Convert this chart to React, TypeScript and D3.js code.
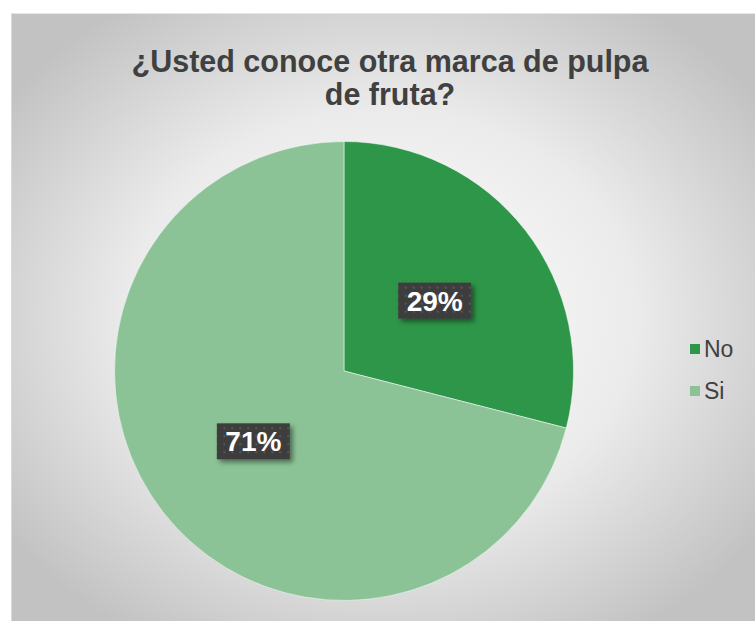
import { useEffect, useRef } from 'react';
import * as d3 from 'd3';

const categories = ['No', 'Si'];
const values = [29, 71];
const labels = ['29%', '71%'];
const colors = ['#2E9648', '#8CC396'];
const titleLines = ['¿Usted conoce otra marca de pulpa', 'de fruta?'];

export default function App() {
  const svgRef = useRef<SVGSVGElement>(null);

  useEffect(() => {
    if (!svgRef.current) return;
    const width = 755;
    const height = 621;
    const svg = d3.select(svgRef.current);
    svg.selectAll('*').remove();

    const defs = svg.append('defs');

    // background gradient
    const grad = defs.append('radialGradient')
      .attr('id', 'bg')
      .attr('cx', '50%').attr('cy', '50%').attr('r', '62%');
    grad.append('stop').attr('offset', '0%').attr('stop-color', '#ffffff');
    grad.append('stop').attr('offset', '55%').attr('stop-color', '#ebebeb');
    grad.append('stop').attr('offset', '100%').attr('stop-color', '#c2c2c2');

    // dotted pattern for data labels
    const pat = defs.append('pattern')
      .attr('id', 'dots')
      .attr('width', 8).attr('height', 8)
      .attr('patternUnits', 'userSpaceOnUse');
    pat.append('rect').attr('width', 8).attr('height', 8).attr('fill', '#3c3c3c');
    pat.append('rect').attr('x', 2).attr('y', 2).attr('width', 2).attr('height', 2).attr('fill', '#585858');

    const shadow = defs.append('filter')
      .attr('id', 'shadow')
      .attr('x', '-30%').attr('y', '-30%').attr('width', '170%').attr('height', '180%');
    shadow.append('feDropShadow')
      .attr('dx', 3).attr('dy', 3).attr('stdDeviation', 2.5)
      .attr('flood-color', '#000').attr('flood-opacity', 0.45);

    // chart area
    svg.append('rect')
      .attr('x', 11).attr('y', 13)
      .attr('width', width - 11).attr('height', height - 13)
      .attr('fill', 'url(#bg)');
    svg.append('line')
      .attr('x1', 11).attr('x2', width).attr('y1', 13.5).attr('y2', 13.5)
      .attr('stroke', '#e6e6e6').attr('stroke-width', 1);
    svg.append('line')
      .attr('x1', 11.5).attr('x2', 11.5).attr('y1', 13).attr('y2', height)
      .attr('stroke', '#d9d9d9').attr('stroke-width', 1);

    // title
    svg.append('text')
      .attr('text-anchor', 'middle')
      .attr('font-family', 'Liberation Sans, Arial, sans-serif')
      .attr('font-weight', 'bold')
      .attr('font-size', 30.5)
      .attr('fill', '#404040')
      .selectAll('tspan')
      .data(titleLines)
      .enter()
      .append('tspan')
      .attr('x', 390)
      .attr('y', (_, i) => 72 + i * 33)
      .text(d => d);

    // pie
    const cx = 344;
    const cy = 371;
    const r = 229.5;
    const pie = d3.pie<number>().sort(null).value(d => d);
    const arcs = pie(values);
    const arc = d3.arc<d3.PieArcDatum<number>>().innerRadius(0).outerRadius(r);

    const g = svg.append('g').attr('transform', `translate(${cx},${cy})`);
    g.selectAll('path')
      .data(arcs)
      .enter()
      .append('path')
      .attr('d', arc)
      .attr('fill', (_, i) => colors[i])
      .attr('stroke', '#ffffff')
      .attr('stroke-width', 0.5);

    // data labels
    const labelArc = d3.arc<d3.PieArcDatum<number>>().innerRadius(r * 0.5).outerRadius(r * 0.5);
    const boxW = 73;
    const boxH = 36;
    arcs.forEach((a, i) => {
      const [lx, ly] = labelArc.centroid(a);
      const lg = g.append('g').attr('transform', `translate(${lx},${ly})`);
      lg.append('rect')
        .attr('x', -boxW / 2).attr('y', -boxH / 2)
        .attr('width', boxW).attr('height', boxH)
        .attr('fill', 'url(#dots)')
        .attr('filter', 'url(#shadow)');
      lg.append('text')
        .attr('text-anchor', 'middle')
        .attr('y', 10)
        .attr('font-family', 'Liberation Sans, Arial, sans-serif')
        .attr('font-weight', 'bold')
        .attr('font-size', 28)
        .attr('fill', '#ffffff')
        .text(labels[i]);
    });

    // legend
    const legend = svg.append('g').attr('transform', 'translate(690,349)');
    const ly = d3.scaleBand<string>().domain(categories).range([0, 84]);
    categories.forEach((c, i) => {
      const row = legend.append('g').attr('transform', `translate(0,${ly(c)})`);
      row.append('rect')
        .attr('x', 0).attr('y', -5)
        .attr('width', 10).attr('height', 10)
        .attr('fill', colors[i]);
      row.append('text')
        .attr('x', 14).attr('y', 8)
        .attr('font-family', 'Liberation Sans, Arial, sans-serif')
        .attr('font-size', 23)
        .attr('fill', '#404040')
        .text(c);
    });
  }, []);

  return (
    <svg
      ref={svgRef}
      width={755}
      height={621}
      style={{ position: 'fixed', top: 0, left: 0, background: '#ffffff' }}
    />
  );
}
